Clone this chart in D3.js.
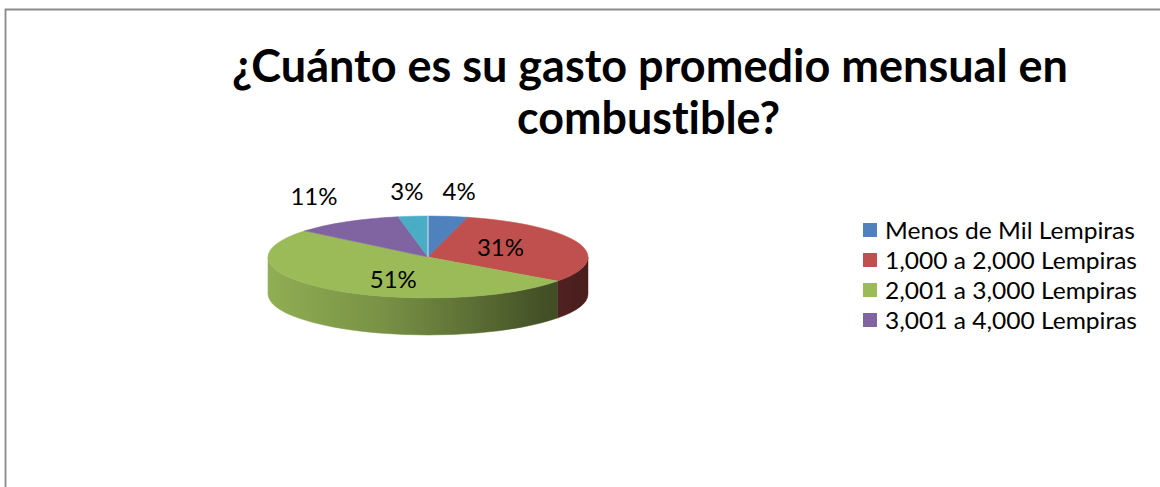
<!DOCTYPE html>
<html>
<head>
<meta charset="utf-8">
<script src="https://cdn.jsdelivr.net/npm/d3@7"></script>
<style>
  html, body { margin: 0; padding: 0; background: #ffffff; }
  svg { display: block; }
  text { font-family: Lato, "Open Sans", sans-serif; fill: #000; font-variant-ligatures: none; font-feature-settings: "liga" 0, "clig" 0; }
</style>
</head>
<body>
<svg id="chart" width="1160" height="487"></svg>
<script>
// Monthly fuel spending, share of respondents (%)
const categories = [
  "Menos de Mil Lempiras",
  "1,000 a 2,000 Lempiras",
  "2,001 a 3,000 Lempiras",
  "3,001 a 4,000 Lempiras",
  "Más de 4,000 Lempiras"
];
const shares = [4, 31, 51, 11, 3];
const colors = ["#4F81BD", "#C0504D", "#9BBB59", "#8064A2", "#4BACC6"];
const legendEntries = 4;
const titleLines = ["¿Cuánto es su gasto promedio mensual en", "combustible?"];

const W = 1160, H = 487;
const svg = d3.select("#chart");
const defs = svg.append("defs");

// frame
svg.append("path")
  .attr("d", `M5.5,${H} V9.5 H${W}`)
  .attr("fill", "none")
  .attr("stroke", "#8a8a8a")
  .attr("stroke-width", 1.8);

// title, stretched to its column width
const titleSpec = [
  { x: 650, y: 82, w: 836 },
  { x: 648.5, y: 134, w: 263 }
];
titleLines.forEach((t, i) => {
  svg.append("text")
    .attr("x", titleSpec[i].x)
    .attr("y", titleSpec[i].y)
    .attr("text-anchor", "middle")
    .attr("font-size", 46)
    .attr("font-weight", 700)
    .attr("textLength", titleSpec[i].w)
    .attr("lengthAdjust", "spacingAndGlyphs")
    .text(t);
});

// 3D pie geometry
const cx = 428, cy = 257, rx = 160, ry = 41, depth = 37;
const pie = d3.pie().sort(null).value(d => d);
const arcs = pie(shares);
const total = d3.sum(shares);
const pct = d3.format(".0%");

const px = a => cx + rx * Math.sin(a);
const py = a => cy - ry * Math.cos(a);

const shade = (c, f) => {
  const r = d3.rgb(c);
  return d3.rgb(r.r * f, r.g * f, r.b * f).formatHex();
};

// side-wall gradients, lit from the left
const shadeStops = [[0, 0.93], [0.35, 0.78], [0.6, 0.62], [0.85, 0.44], [1, 0.38]];
colors.forEach((c, i) => {
  const g = defs.append("linearGradient")
    .attr("id", "wall" + i)
    .attr("gradientUnits", "userSpaceOnUse")
    .attr("x1", cx - rx).attr("x2", cx + rx)
    .attr("y1", 0).attr("y2", 0);
  shadeStops.forEach(([o, f]) => {
    g.append("stop").attr("offset", o).attr("stop-color", shade(c, f));
  });
});

const gPie = svg.append("g");

// front walls (visible between 90° and 270°)
arcs.forEach((d, i) => {
  const a0 = Math.max(d.startAngle, Math.PI / 2);
  const a1 = Math.min(d.endAngle, 3 * Math.PI / 2);
  if (a1 <= a0) return;
  const dpath = `M${px(a0)},${py(a0)} A${rx},${ry} 0 0 1 ${px(a1)},${py(a1)}` +
    ` L${px(a1)},${py(a1) + depth} A${rx},${ry} 0 0 0 ${px(a0)},${py(a0) + depth} Z`;
  gPie.append("path")
    .attr("d", dpath)
    .attr("fill", `url(#wall${i})`)
    .attr("stroke", `url(#wall${i})`)
    .attr("stroke-width", 0.5);
});

// top faces
arcs.forEach((d, i) => {
  const a0 = d.startAngle, a1 = d.endAngle;
  const large = (a1 - a0) > Math.PI ? 1 : 0;
  const dpath = `M${cx},${cy} L${px(a0)},${py(a0)} A${rx},${ry} 0 ${large} 1 ${px(a1)},${py(a1)} Z`;
  gPie.append("path")
    .attr("d", dpath)
    .attr("fill", colors[i])
    .attr("stroke", colors[i])
    .attr("stroke-width", 0.5);
});

// thin light seam at 12 o'clock
gPie.append("line")
  .attr("x1", cx).attr("y1", cy)
  .attr("x2", px(0)).attr("y2", py(0))
  .attr("stroke", "#d8e4f0")
  .attr("stroke-width", 1);

// data labels: small slices outside, large ones on the face
arcs.forEach((d, i) => {
  const m = (d.startAngle + d.endAngle) / 2;
  const share = d.value / total;
  let x, y;
  if (share < 0.15) {
    x = cx + rx * 1.4 * Math.sin(m) + (Math.sin(m) > 0 ? 3 : 0);
    y = cy - ry * Math.cos(m) - 25;
  } else {
    const h = (d.endAngle - d.startAngle) / 2;
    const k = 2 * Math.sin(h) / (3 * h) * 0.85;
    x = cx + rx * k * Math.sin(m);
    y = cy - ry * 0.7 * Math.cos(m);
  }
  svg.append("text")
    .attr("x", x)
    .attr("y", y)
    .attr("dy", "0.36em")
    .attr("text-anchor", "middle")
    .attr("font-size", 24)
    .text(pct(share));
});

// legend
const legendY = d3.scaleLinear().domain([0, 1]).range([230, 260]);
const legendWidths = [250, 252, 252, 252];
const gLeg = svg.append("g");
categories.slice(0, legendEntries).forEach((name, i) => {
  const y = legendY(i);
  gLeg.append("rect")
    .attr("x", 863).attr("y", y - 7)
    .attr("width", 14).attr("height", 14)
    .attr("fill", colors[i]);
  gLeg.append("text")
    .attr("x", 885).attr("y", y)
    .attr("dy", "0.36em")
    .attr("font-size", 24)
    .attr("textLength", legendWidths[i])
    .attr("lengthAdjust", "spacingAndGlyphs")
    .text(name);
});
</script>
</body>
</html>
